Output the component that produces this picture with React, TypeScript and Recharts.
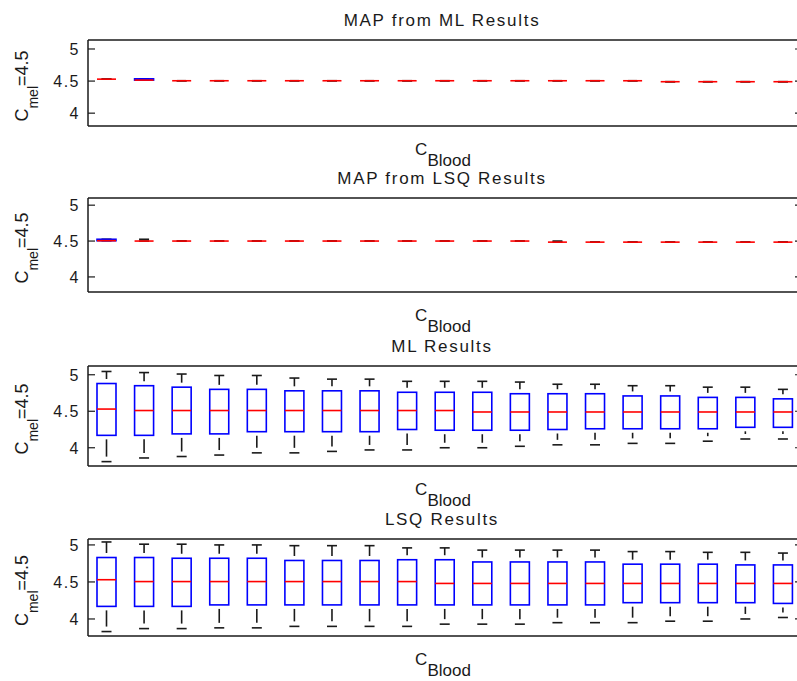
import { Bar, ComposedChart, XAxis, YAxis } from "recharts";

const positions = [1, 2, 3, 4, 5, 6, 7, 8, 9, 10, 11, 12, 13, 14, 15, 16, 17, 18, 19];
const yTicks = [4, 4.5, 5];

// MAP from ML Results (collapsed boxes)
const mapMlMin = [4.53, 4.515, 4.505, 4.505, 4.505, 4.505, 4.505, 4.505, 4.505, 4.505, 4.505, 4.505, 4.505, 4.505, 4.505, 4.49, 4.49, 4.49, 4.49];
const mapMlQ1 = [4.53, 4.515, 4.505, 4.505, 4.505, 4.505, 4.505, 4.505, 4.505, 4.505, 4.505, 4.505, 4.505, 4.505, 4.505, 4.49, 4.49, 4.49, 4.49];
const mapMlMed = [4.53, 4.515, 4.505, 4.505, 4.505, 4.505, 4.505, 4.505, 4.505, 4.505, 4.505, 4.505, 4.505, 4.505, 4.505, 4.49, 4.49, 4.49, 4.49];
const mapMlQ3 = [4.53, 4.535, 4.505, 4.505, 4.505, 4.505, 4.505, 4.505, 4.505, 4.505, 4.505, 4.505, 4.505, 4.505, 4.505, 4.49, 4.49, 4.49, 4.49];
const mapMlMax = [4.53, 4.535, 4.505, 4.505, 4.505, 4.505, 4.505, 4.505, 4.505, 4.505, 4.505, 4.505, 4.505, 4.505, 4.505, 4.49, 4.49, 4.49, 4.49];

// MAP from LSQ Results (collapsed boxes)
const mapLsqMin = [4.505, 4.5, 4.5, 4.5, 4.5, 4.5, 4.5, 4.5, 4.5, 4.5, 4.5, 4.5, 4.485, 4.485, 4.485, 4.485, 4.485, 4.485, 4.485];
const mapLsqQ1 = [4.505, 4.5, 4.5, 4.5, 4.5, 4.5, 4.5, 4.5, 4.5, 4.5, 4.5, 4.5, 4.485, 4.485, 4.485, 4.485, 4.485, 4.485, 4.485];
const mapLsqMed = [4.505, 4.5, 4.5, 4.5, 4.5, 4.5, 4.5, 4.5, 4.5, 4.5, 4.5, 4.5, 4.485, 4.485, 4.485, 4.485, 4.485, 4.485, 4.485];
const mapLsqQ3 = [4.525, 4.5, 4.5, 4.5, 4.5, 4.5, 4.5, 4.5, 4.5, 4.5, 4.5, 4.5, 4.485, 4.485, 4.485, 4.485, 4.485, 4.485, 4.485];
const mapLsqMax = [4.525, 4.525, 4.5, 4.5, 4.5, 4.5, 4.5, 4.5, 4.5, 4.5, 4.5, 4.5, 4.5, 4.485, 4.485, 4.485, 4.485, 4.485, 4.485];

// ML Results
const mlMin = [3.81, 3.86, 3.88, 3.9, 3.93, 3.93, 3.95, 3.97, 3.97, 4.0, 4.0, 4.02, 4.04, 4.04, 4.06, 4.06, 4.09, 4.12, 4.12];
const mlQ1 = [4.17, 4.17, 4.19, 4.19, 4.22, 4.22, 4.22, 4.22, 4.25, 4.24, 4.24, 4.24, 4.25, 4.26, 4.26, 4.26, 4.26, 4.28, 4.28];
const mlMed = [4.53, 4.51, 4.51, 4.51, 4.51, 4.51, 4.51, 4.51, 4.51, 4.51, 4.49, 4.49, 4.49, 4.49, 4.49, 4.49, 4.49, 4.49, 4.49];
const mlQ3 = [4.88, 4.85, 4.83, 4.8, 4.8, 4.78, 4.78, 4.78, 4.76, 4.76, 4.76, 4.74, 4.74, 4.74, 4.71, 4.71, 4.69, 4.69, 4.67];
const mlMax = [5.045, 5.03, 5.01, 4.99, 4.99, 4.955, 4.94, 4.94, 4.91, 4.91, 4.91, 4.9, 4.87, 4.87, 4.85, 4.85, 4.83, 4.83, 4.8];

// LSQ Results
const lsqMin = [3.83, 3.87, 3.87, 3.88, 3.88, 3.9, 3.9, 3.9, 3.9, 3.93, 3.93, 3.93, 3.95, 3.95, 3.95, 3.97, 3.97, 4.0, 4.02];
const lsqQ1 = [4.17, 4.17, 4.17, 4.19, 4.19, 4.19, 4.19, 4.19, 4.19, 4.19, 4.19, 4.19, 4.19, 4.19, 4.22, 4.22, 4.22, 4.22, 4.21];
const lsqMed = [4.53, 4.505, 4.505, 4.505, 4.505, 4.505, 4.505, 4.505, 4.505, 4.48, 4.48, 4.48, 4.48, 4.48, 4.48, 4.48, 4.48, 4.48, 4.48];
const lsqQ3 = [4.83, 4.83, 4.82, 4.82, 4.82, 4.79, 4.79, 4.79, 4.8, 4.8, 4.77, 4.77, 4.77, 4.77, 4.74, 4.74, 4.74, 4.73, 4.73];
const lsqMax = [5.04, 5.01, 5.01, 5.0, 5.0, 4.99, 4.99, 4.99, 4.96, 4.96, 4.93, 4.93, 4.93, 4.93, 4.91, 4.91, 4.9, 4.9, 4.89];

const FONT = "'Liberation Sans', Arial, Helvetica, sans-serif";
const INK = "#1a1a1a";

const makeRows = (lo: number, min: number[], q1: number[], med: number[], q3: number[], max: number[]) =>
  positions.map((p, i) => ({ pos: p, min: min[i], q1: q1[i], med: med[i], q3: q3[i], max: max[i], span: [lo, max[i]] }));

const panels = [
  { title: "MAP from ML Results", top: 40, plotH: 86, domain: [3.8, 5.14], stats: [mapMlMin, mapMlQ1, mapMlMed, mapMlQ3, mapMlMax] },
  { title: "MAP from LSQ Results", top: 198, plotH: 94, domain: [3.79, 5.1], stats: [mapLsqMin, mapLsqQ1, mapLsqMed, mapLsqQ3, mapLsqMax] },
  { title: "ML Results", top: 366, plotH: 100, domain: [3.75, 5.12], stats: [mlMin, mlQ1, mlMed, mlQ3, mlMax] },
  { title: "LSQ Results", top: 539, plotH: 97, domain: [3.77, 5.08], stats: [lsqMin, lsqQ1, lsqMed, lsqQ3, lsqMax] },
];

const BoxShape = (props: any) => {
  const { x, y, width, height, payload, lo } = props;
  const { min, q1, med, q3, max } = payload;
  const py = (v: number) => y + (height * (max - v)) / (max - lo);
  const cx = x + width / 2;
  const yMax = py(max);
  const yQ3 = py(q3);
  const yMed = py(med);
  const yQ1 = py(q1);
  const yMin = py(min);
  const upEnd = yQ3 - 4.5;
  const lowStart = yQ1 + 4;
  const lowEnd = yMin - 5;
  return (
    <g>
      {upEnd > yMax + 1 && <line x1={cx} x2={cx} y1={yMax} y2={upEnd} stroke={INK} strokeWidth={1.6} />}
      {lowEnd > lowStart + 1 && <line x1={cx} x2={cx} y1={lowStart} y2={lowEnd} stroke={INK} strokeWidth={1.6} />}
      <line x1={cx - 5} x2={cx + 5} y1={yMax} y2={yMax} stroke={INK} strokeWidth={1.6} />
      <line x1={cx - 5} x2={cx + 5} y1={yMin} y2={yMin} stroke={INK} strokeWidth={1.6} />
      <rect x={x} y={yQ3} width={width} height={Math.max(yQ1 - yQ3, 0)} fill="none" stroke="#0000ff" strokeWidth={1.6} />
      <line x1={x} x2={x + width} y1={yMed} y2={yMed} stroke="#ff0000" strokeWidth={1.6} />
    </g>
  );
};

const LeftTick = (props: any) => {
  const { x, y, payload } = props;
  return (
    <g>
      <line x1={x} x2={x + 7} y1={y} y2={y} stroke={INK} strokeWidth={1.2} />
      <text x={x - 8} y={y} dy={6} textAnchor="end" fontSize={16} letterSpacing={1.5} fill={INK} fontFamily={FONT}>
        {payload.value}
      </text>
    </g>
  );
};

const RightTick = (props: any) => {
  const { x, y } = props;
  return <line x1={x - 7} x2={x} y1={y} y2={y} stroke={INK} strokeWidth={1.2} />;
};

const YLabel = (props: any) => {
  const vb = props.viewBox;
  const cy = vb.y + vb.height / 2 + 3;
  return (
    <text transform={`translate(${vb.x}, ${cy}) rotate(-90)`} textAnchor="middle" fontSize={18} fill={INK} fontFamily={FONT}>
      C<tspan fontSize={14} dy={10}>mel</tspan>
      <tspan dy={-10}>=4.5</tspan>
    </text>
  );
};

const XLabel = (props: any) => {
  const vb = props.viewBox;
  return (
    <text x={vb.x + vb.width / 2 - 2} y={vb.y + 29} textAnchor="middle" fontSize={17} fill={INK} fontFamily={FONT}>
      C<tspan dy={11}>Blood</tspan>
    </text>
  );
};

const makeTitle = (title: string) => (props: any) => {
  const vb = props.viewBox;
  return (
    <text x={vb.x + vb.width / 2 - 3} y={vb.y + vb.height - 14} textAnchor="middle" fontSize={17} letterSpacing={1.7} fill={INK} fontFamily={FONT}>
      {title}
    </text>
  );
};

const frame = { stroke: INK, strokeWidth: 1.5 };

const Panel = ({ panel }: any) => {
  const [lo] = panel.domain;
  const rows = makeRows(lo, panel.stats[0], panel.stats[1], panel.stats[2], panel.stats[3], panel.stats[4]);
  return (
    <div style={{ position: "absolute", left: 0, top: panel.top - 40 }}>
      <ComposedChart width={810} height={panel.plotH + 90} data={rows} margin={{ top: 38, right: 0, bottom: 48, left: 28 }}>
        <XAxis xAxisId="b" dataKey="pos" type="category" height={2} tick={false} tickLine={false} axisLine={frame} label={XLabel} />
        <XAxis xAxisId="t" dataKey="pos" type="category" orientation="top" height={2} tick={false} tickLine={false} axisLine={frame} label={makeTitle(panel.title)} />
        <YAxis yAxisId="l" type="number" domain={panel.domain} ticks={yTicks} allowDataOverflow width={60} tickSize={0} tickMargin={0} tickLine={false} axisLine={frame} tick={<LeftTick />} label={YLabel} />
        <YAxis yAxisId="r" type="number" orientation="right" domain={panel.domain} ticks={yTicks} allowDataOverflow width={8} tickSize={0} tickMargin={0} tickLine={false} axisLine={frame} tick={<RightTick />} />
        <Bar xAxisId="b" yAxisId="l" dataKey="span" barSize={19} isAnimationActive={false} shape={(p: any) => <BoxShape {...p} lo={lo} />} />
      </ComposedChart>
    </div>
  );
};

export default function App() {
  return (
    <div style={{ position: "absolute", left: 0, top: 0, width: 797, height: 681, overflow: "hidden", background: "#fff" }}>
      {panels.map((p) => (
        <Panel key={p.title} panel={p} />
      ))}
    </div>
  );
}
